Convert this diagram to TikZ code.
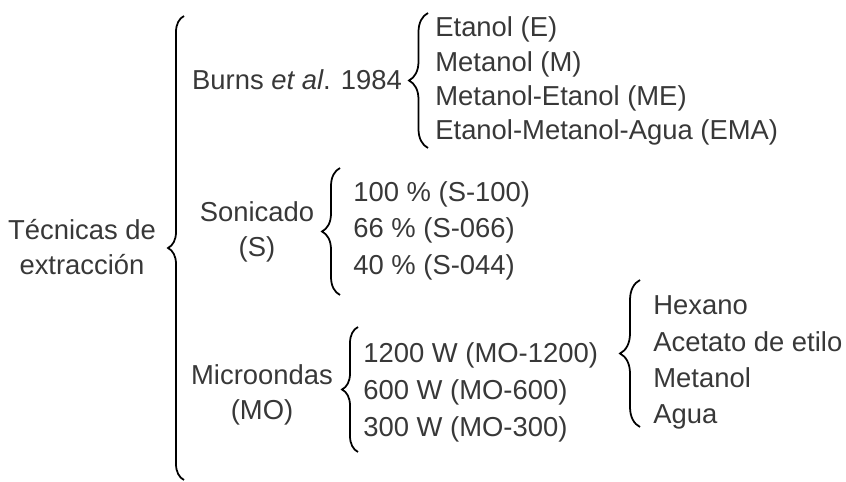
\documentclass[tikz,border=0pt]{standalone}
\usepackage{fontspec}
\setmainfont{Liberation Sans}
\usetikzlibrary{decorations.pathreplacing}
\usetikzlibrary{positioning}

\tikzset{
  lbl/.style={inner sep=0pt,font=\fontsize{15.6}{20}\selectfont,text=black!78},
  itm/.style={lbl,anchor=base west},
  brc/.style={decorate,line width=1pt,decoration={brace,amplitude=#1}}
}

\begin{document}
\begin{tikzpicture}[x=0.02cm,y=-0.02cm]
\useasboundingbox (0,0) rectangle (846,482);

% main brace
\draw[brc=0.32cm] (184,480) -- (184,16);
\node[lbl,align=center] (tec) at (82,247) {Técnicas de\\extracción};

% Burns
\node[lbl,anchor=base] (burns) at (297,90) {Burns \textit{et al}. 1984};
\draw[brc=0.38cm] (428,148) -- (428,13);
\node[itm] (e) at (435,37) {Etanol (E)};
\node[itm] (m) at (435,72) {Metanol (M)};
\node[itm] (me) at (435,106) {Metanol-Etanol (ME)};
\node[itm] (ema) at (435,140) {Etanol-Metanol-Agua (EMA)};

% Sonicado
\node[lbl,align=center] (son) at (257,232) {Sonicado\\(S)};
\draw[brc=0.36cm] (340,295) -- (340,168);
\node[itm] (s100) at (353,202) {100 \% (S-100)};
\node[itm] (s066) at (353,238) {66 \% (S-066)};
\node[itm] (s044) at (353,275) {40 \% (S-044)};

% Microondas
\node[lbl,align=center] (mo) at (262,395) {Microondas\\(MO)};
\draw[brc=0.32cm] (358,452) -- (358,327);
\node[itm] (mo1200) at (363,363) {1200 W (MO-1200)};
\node[itm] (mo600) at (363,400) {600 W (MO-600)};
\node[itm] (mo300) at (363,437) {300 W (MO-300)};

% solventes
\draw[brc=0.4cm] (640,427) -- (640,280);
\node[itm] (hex) at (653,315) {Hexano};
\node[itm] (ace) at (653,352) {Acetato de etilo};
\node[itm] (met) at (653,388) {Metanol};
\node[itm] (agu) at (653,424) {Agua};

\end{tikzpicture}
\end{document}
